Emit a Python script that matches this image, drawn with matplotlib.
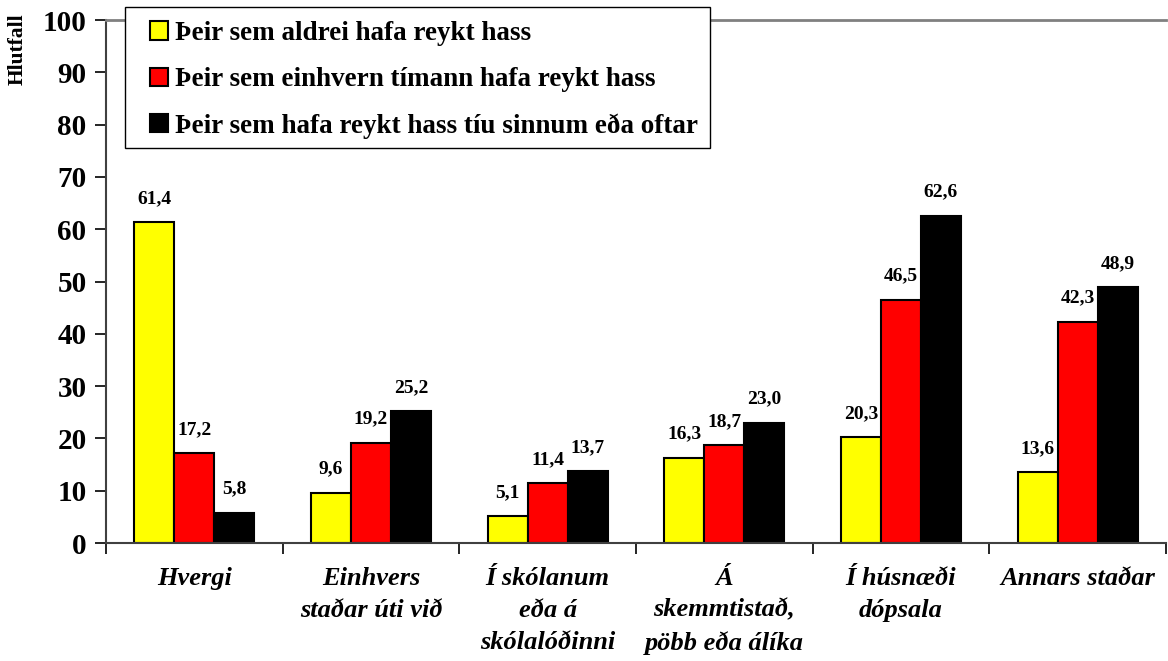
import numpy as np
import matplotlib
matplotlib.use("Agg")
import matplotlib.pyplot as plt
from matplotlib.patches import Rectangle

# Data
categories = ["Hvergi", "Einhvers\nstaðar úti við", "Í skólanum\neða á\nskólalóðinni",
              "Á\nskemmtistað,\npöbb eða álíka", "Í húsnæði\ndópsala", "Annars staðar"]
series_names = ["Þeir sem aldrei hafa reykt hass",
                "Þeir sem einhvern tímann hafa reykt hass",
                "Þeir sem hafa reykt hass tíu sinnum eða oftar"]
never = [61.4, 9.6, 5.1, 16.3, 20.3, 13.6]
ever = [17.2, 19.2, 11.4, 18.7, 46.5, 42.3]
often = [5.8, 25.2, 13.7, 23.0, 62.6, 48.9]
colors = ["#FFFF00", "#FF0000", "#000000"]

plt.rcParams['font.family'] = ['Liberation Serif', 'DejaVu Serif']
plt.rcParams['font.weight'] = 'bold'

fig = plt.figure(figsize=(11.68, 6.61), dpi=100)
ax = fig.add_axes([0.0908, 0.1785, 0.9075, 0.7912])

x = np.arange(len(categories))
w = 0.226
for i, (vals, col, name) in enumerate(zip([never, ever, often], colors, series_names)):
    pos = x + (i - 1) * w
    ax.bar(pos, vals, width=w, color=col, edgecolor='black', linewidth=1.5, label=name)
    for p, v in zip(pos, vals):
        ax.annotate(f"{v:.1f}".replace('.', ','), (p, v), xytext=(0, 17),
                    textcoords='offset points', ha='center', va='center',
                    fontsize=14, fontweight='bold')

ax.set_xlim(-0.5, len(categories) - 0.5)
ax.set_ylim(0, 100)
ax.set_yticks(np.arange(0, 101, 10))
ax.tick_params(axis='y', labelsize=21, length=8, width=1.2, direction='out', pad=6)
for lab in ax.get_yticklabels():
    lab.set_fontweight('bold')

ax.set_xticks(x)
ax.set_xticklabels(categories, fontsize=19, fontweight='bold', style='italic', linespacing=1.5)
ax.tick_params(axis='x', length=0, pad=17)
ax.set_xticks(np.arange(-0.5, len(categories), 1), minor=True)
ax.tick_params(axis='x', which='minor', length=8, width=1.2, direction='out')

ax.spines['right'].set_visible(False)
ax.spines['top'].set_color('#808080')
ax.spines['top'].set_linewidth(2)
ax.spines['left'].set_color('#404040')
ax.spines['left'].set_linewidth(1.5)
ax.spines['bottom'].set_color('#404040')
ax.spines['bottom'].set_linewidth(1.5)

ax.set_ylabel("Hlutfall", fontsize=15.5, fontweight='bold')
ax.yaxis.set_label_coords(-0.0736, 0.945)

# legend box drawn by hand so the padding matches
W, H = 1168, 661
fig.patches.append(Rectangle((125 / W, 1 - 148 / H), 585 / W, 141 / H, transform=fig.transFigure,
                             facecolor='white', edgecolor='black', linewidth=1.0, zorder=3))
handles, labels = ax.get_legend_handles_labels()
leg = fig.legend(handles, labels, loc='upper left', bbox_to_anchor=(150 / W, 1 - 21 / H),
                 borderaxespad=0, borderpad=0, frameon=False,
                 prop={'size': 19.5, 'weight': 'bold'}, handlelength=0.65, handleheight=0.65,
                 handletextpad=0.28, labelspacing=0.78)
leg.set_zorder(5)

fig.savefig("out.png", dpi=100)
